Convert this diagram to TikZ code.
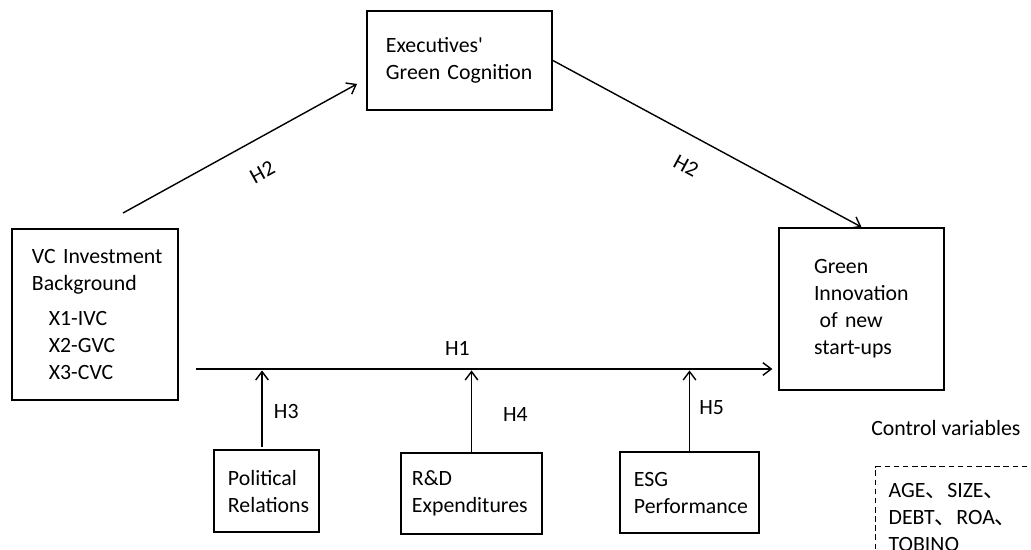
\documentclass[tikz,border=0pt]{standalone}
\usepackage{fontspec}
\setmainfont{Carlito}
\newfontfamily\cjk{Noto Sans CJK SC}
\usetikzlibrary{arrows.meta, positioning, calc}
\newcommand{\hfont}{\fontsize{15.5}{19.2}\selectfont}
\tikzset{
  varbox/.style={rectangle, draw=black, line width=1.3pt, align=left, inner ysep=0pt,
                 execute at begin node={\hyphenpenalty=10000\exhyphenpenalty=10000}},
  hlbl/.style={inner sep=0pt, font=\hfont},
  arr/.style={-{Straight Barb[length=6pt, width=9pt]}, line width=1pt},
}

\begin{document}
\begin{tikzpicture}[x=0.025cm, y=-0.025cm, every node/.style={font=\hfont}]
  \useasboundingbox (0,0) rectangle (1031,549);
  \clip (0,0) rectangle (1031,549);

  \node[varbox, minimum width=4.625cm, minimum height=2.475cm, inner xsep=0.475cm,
        text width=3.675cm] (exec) at (459.5,60.5)
    {Executives\textquotesingle\\Green~Cognition};

  \node[varbox, minimum width=4.15cm, minimum height=4.275cm, inner xsep=0.5cm,
        text width=3.15cm] (vc) at (95,314.5)
    {VC~Investment\\Background\\[6pt]\hspace*{12pt}X1-IVC\\\hspace*{12pt}X2-GVC\\\hspace*{12pt}X3-CVC};

  \node[varbox, minimum width=4.125cm, minimum height=4.05cm, inner xsep=0.875cm,
        text width=2.375cm] (gi) at (861.5,309)
    {Green\\Innovation\\\hspace*{4pt}of~new\\start-ups\\[10pt]};

  \node[varbox, minimum width=2.625cm, minimum height=2.05cm, inner xsep=0.35cm,
        text width=1.925cm] (pol) at (266.5,491)
    {Political\\Relations};
  \node[varbox, minimum width=3.525cm, minimum height=2.025cm, inner xsep=0.275cm,
        text width=2.975cm] (rd) at (471.5,493.5)
    {R\&D\\Expenditures};
  \node[varbox, minimum width=3.475cm, minimum height=2.025cm, inner xsep=0.35cm,
        text width=2.775cm] (esg) at (689.5,492.5)
    {ESG\\Performance};

  % control variables
  \node[hlbl, anchor=west] (ctitle) at (871,428) {Control variables};
  \node[varbox, line width=0.9pt, dash pattern=on 4pt off 2.5pt, anchor=north west,
        minimum width=4.25cm, minimum height=2.6cm, inner xsep=0.325cm,
        text width=3.6cm] (ctrl) at (875,466)
    {AGE{\cjk 、}SIZE{\cjk 、}\\DEBT{\cjk 、}ROA{\cjk 、}\\TOBINQ};

  \coordinate (h1s) at (196,369);
  \coordinate (h2s) at (123,213);
  \coordinate (p3) at ($(pol.north)+(-4.5,-2)$);

  \draw[arr, shorten >=4pt] (h1s) -- (h1s -| gi.west)
    node[hlbl, pos=0.449, above=9pt] (h1) {H1};
  \draw[arr] (h2s) -- ($(exec.south west)+(-9,-27)$)
    node[hlbl, sloped, pos=0.53, below=17pt] (h2a) {H2};
  \draw[arr] (exec.east) -- (gi.north)
    node[hlbl, sloped, pos=0.477, below=15.5pt] (h2b) {H2};

  \draw[arr, shorten >=1pt] (p3) -- (p3 |- h1s)
    node[hlbl, pos=0.455, right=8pt] (h3) {H3};
  \draw[arr, shorten >=1pt] (rd.north) -- (rd.north |- h1s)
    node[hlbl, pos=0.456, right=22pt] (h4) {H4};
  \draw[arr, shorten >=1pt] (esg.north) -- (esg.north |- h1s)
    node[hlbl, pos=0.525, right=6.5pt] (h5) {H5};
\end{tikzpicture}
\end{document}
